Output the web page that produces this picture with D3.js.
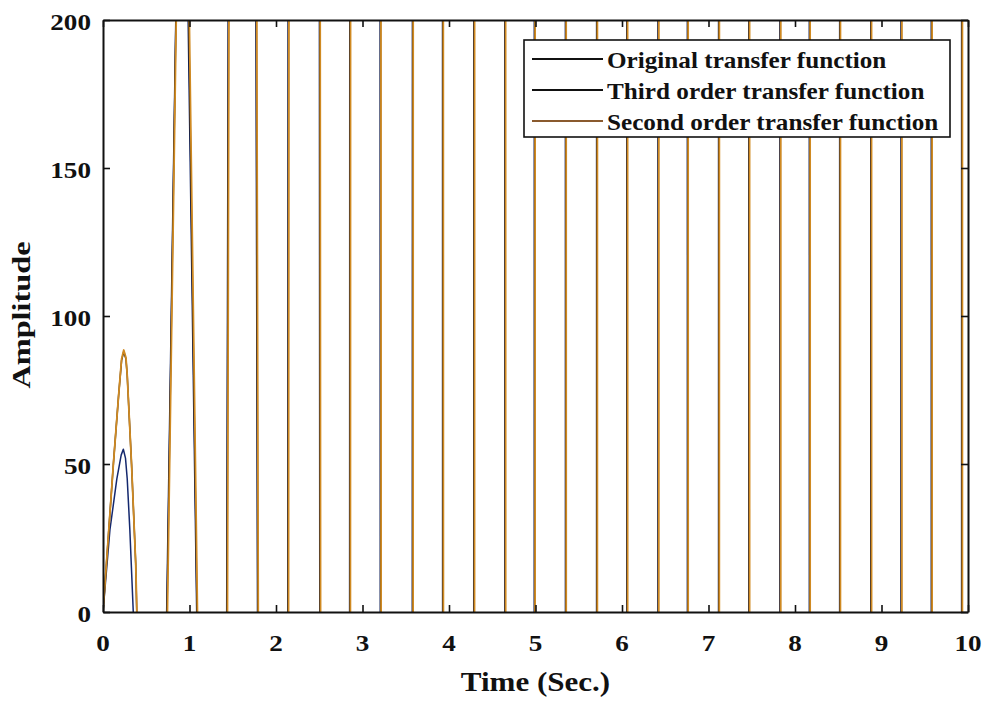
<!DOCTYPE html>
<html>
<head>
<meta charset="utf-8">
<script src="https://cdn.jsdelivr.net/npm/d3@7"></script>
<style>
  html, body { margin: 0; padding: 0; background: #ffffff; }
  svg { display: block; }
  text { font-family: "Liberation Serif", "Times New Roman", serif; font-weight: bold; fill: #111; }
</style>
</head>
<body>
<svg id="chart" width="988" height="701"></svg>
<script>
// Step responses (amplitude vs. time) of the original system and its reduced models
const seriesNames = ["Original transfer function", "Third order transfer function", "Second order transfer function"];
const seriesColors = ["#1a1410", "#14286e", "#d08a22"];
const legendColors = ["#111111", "#111111", "#8a5a2e"];

const timeOriginal = [0, 0.04, 0.12, 0.18, 0.215, 0.24, 0.265, 0.28, 0.33, 0.378, 0.39, 0.56, 0.74, 0.92, 1.087, 1.26, 1.434, 1.61, 1.79, 1.965, 2.14, 2.325, 2.51, 2.68, 2.855, 3.03, 3.21, 3.395, 3.58, 3.755, 3.93, 4.11, 4.29, 4.47, 4.65, 4.82, 4.99, 5.17, 5.35, 5.53, 5.71, 5.885, 6.06, 6.24, 6.42, 6.59, 6.76, 6.94, 7.12, 7.295, 7.47, 7.65, 7.83, 8.0, 8.17, 8.345, 8.52, 8.70, 8.88, 9.055, 9.23, 9.405, 9.58, 9.755, 9.93, 10];
const ampOriginal = [0, 16.5, 50, 73, 85, 88, 85.5, 80, 50, 16.5, 0, -160, 0, 350, 0, -900, 0, 2100, 0, -4600, 0, 9000, 0, -15000, 0, 22000, 0, -30000, 0, 38000, 0, -46000, 0, 54000, 0, -62000, 0, 70000, 0, -78000, 0, 86000, 0, -94000, 0, 102000, 0, -110000, 0, 118000, 0, -126000, 0, 134000, 0, -142000, 0, 150000, 0, -158000, 0, 166000, 0, -174000, 0, 70000];

const timeThird = [0, 0.08, 0.16, 0.21, 0.235, 0.26, 0.28, 0.31, 0.35, 0.55, 0.736, 0.915, 1.083, 1.256, 1.43, 1.606, 1.786, 1.961, 2.136, 2.321, 2.506, 2.676, 2.851, 3.026, 3.206, 3.391, 3.576, 3.751, 3.926, 4.106, 4.286, 4.466, 4.646, 4.816, 4.986, 5.166, 5.346, 5.526, 5.706, 5.881, 6.056, 6.236, 6.416, 6.586, 6.756, 6.936, 7.116, 7.291, 7.466, 7.646, 7.826, 7.996, 8.166, 8.341, 8.516, 8.696, 8.876, 9.051, 9.226, 9.401, 9.576, 9.751, 9.926, 10];
const ampThird = [0, 27.7, 45, 53, 55, 52, 45, 28, 0, -150, 0, 340, 0, -880, 0, 2050, 0, -4500, 0, 8800, 0, -14800, 0, 21800, 0, -29800, 0, 37800, 0, -45800, 0, 53800, 0, -61800, 0, 69800, 0, -77800, 0, 85800, 0, -93800, 0, 101800, 0, -109800, 0, 117800, 0, -125800, 0, 133800, 0, -141800, 0, 149800, 0, -157800, 0, 165800, 0, -173800, 0, 80000];

const timeSecond = [0, 0.04, 0.12, 0.18, 0.215, 0.24, 0.265, 0.28, 0.33, 0.378, 0.392, 0.565, 0.745, 0.925, 1.092, 1.265, 1.439, 1.615, 1.795, 1.97, 2.145, 2.33, 2.515, 2.685, 2.86, 3.035, 3.215, 3.40, 3.585, 3.76, 3.935, 4.115, 4.295, 4.475, 4.655, 4.825, 4.995, 5.175, 5.355, 5.535, 5.715, 5.89, 6.065, 6.245, 6.425, 6.595, 6.765, 6.945, 7.125, 7.30, 7.475, 7.655, 7.835, 8.005, 8.175, 8.35, 8.525, 8.705, 8.885, 9.06, 9.235, 9.41, 9.585, 9.76, 9.935, 10];
const ampSecond = [0, 16.5, 50, 73, 85.5, 88.5, 86, 80, 50, 16.5, 0, -165, 0, 355, 0, -910, 0, 2120, 0, -4650, 0, 9100, 0, -15100, 0, 22100, 0, -30100, 0, 38100, 0, -46100, 0, 54100, 0, -62100, 0, 70100, 0, -78100, 0, 86100, 0, -94100, 0, 102100, 0, -110100, 0, 118100, 0, -126100, 0, 134100, 0, -142100, 0, 150100, 0, -158100, 0, 166100, 0, -174100, 0, 60000];

const xTicks = [0, 1, 2, 3, 4, 5, 6, 7, 8, 9, 10];
const yTicks = [0, 50, 100, 150, 200];

const svg = d3.select("#chart");
const margin = { left: 103, right: 20, top: 20, bottom: 89 };
const W = 988, H = 701;
const plotW = W - margin.left - margin.right;
const plotH = H - margin.top - margin.bottom;

const x = d3.scaleLinear().domain([0, 10]).range([margin.left, margin.left + plotW]);
const y = d3.scaleLinear().domain([0, 200]).range([margin.top + plotH, margin.top]);

svg.append("rect").attr("width", W).attr("height", H).attr("fill", "#ffffff");

svg.append("defs").append("clipPath").attr("id", "plotClip")
  .append("rect")
  .attr("x", margin.left).attr("y", margin.top)
  .attr("width", plotW).attr("height", plotH);

// Wide bold serif text: glyphs stretched along the reading direction
function wideText(parent, px, py, str, size, sx, anchor, angle) {
  return parent.append("text")
    .attr("transform", `translate(${px},${py}) rotate(${angle || 0}) scale(${sx},1)`)
    .attr("text-anchor", anchor)
    .attr("font-size", size)
    .text(str);
}

// Drawn back to front: third order, original, second order on top
const series = [
  { t: timeThird, v: ampThird, color: seriesColors[1], width: 1.5 },
  { t: timeOriginal, v: ampOriginal, color: seriesColors[0], width: 1.5 },
  { t: timeSecond, v: ampSecond, color: seriesColors[2], width: 1.8 }
];

const line = d3.line().x(d => x(d[0])).y(d => y(d[1]));
const plot = svg.append("g").attr("clip-path", "url(#plotClip)");
series.forEach(s => {
  plot.append("path")
    .datum(s.t.map((t, i) => [t, s.v[i]]))
    .attr("d", line)
    .attr("fill", "none")
    .attr("stroke", s.color)
    .attr("stroke-width", s.width)
    .attr("stroke-linejoin", "round");
});

// Axes: inward ticks on all four sides, box around the plot area
const tickLen = 7;
const xAxisBottom = d3.axisBottom(x).tickValues(xTicks).tickSizeInner(-tickLen).tickSizeOuter(0).tickFormat("");
const xAxisTop = d3.axisTop(x).tickValues(xTicks).tickSizeInner(-tickLen).tickSizeOuter(0).tickFormat("");
const yAxisLeft = d3.axisLeft(y).tickValues(yTicks).tickSizeInner(-tickLen).tickSizeOuter(0).tickFormat("");
const yAxisRight = d3.axisRight(y).tickValues(yTicks).tickSizeInner(-tickLen).tickSizeOuter(0).tickFormat("");

function styleAxis(g) {
  g.select(".domain").attr("stroke", "#111").attr("stroke-width", 2);
  g.selectAll(".tick line").attr("stroke", "#111").attr("stroke-width", 1.6);
}

svg.append("g").attr("transform", `translate(0,${margin.top + plotH})`).call(xAxisBottom).call(styleAxis);
svg.append("g").attr("transform", `translate(0,${margin.top})`).call(xAxisTop).call(styleAxis);
svg.append("g").attr("transform", `translate(${margin.left},0)`).call(yAxisLeft).call(styleAxis);
svg.append("g").attr("transform", `translate(${margin.left + plotW},0)`).call(yAxisRight).call(styleAxis);

// Tick labels
const labels = svg.append("g");
xTicks.forEach(t => wideText(labels, x(t), 651, String(t), 23, 1.18, "middle"));
yTicks.forEach(v => wideText(labels, 91, y(v) + 10, String(v), 23, 1.18, "end"));

// Axis titles
wideText(svg, x(5), 691, "Time (Sec.)", 27, 1.15, "middle");
wideText(svg, 30, 315, "Amplitude", 24.5, 1.32, "middle", -90);

// Legend
const legend = svg.append("g");
legend.append("rect")
  .attr("x", 524).attr("y", 40).attr("width", 426).attr("height", 97)
  .attr("fill", "#ffffff").attr("stroke", "#111").attr("stroke-width", 1.6);
const legendLineY = [59, 90, 121];
seriesNames.forEach((name, i) => {
  legend.append("line")
    .attr("x1", 532).attr("x2", 603)
    .attr("y1", legendLineY[i]).attr("y2", legendLineY[i])
    .attr("stroke", legendColors[i]).attr("stroke-width", 2);
  wideText(legend, 607, legendLineY[i] + 9, name, 22.5, 1.12, "start");
});
</script>
</body>
</html>
